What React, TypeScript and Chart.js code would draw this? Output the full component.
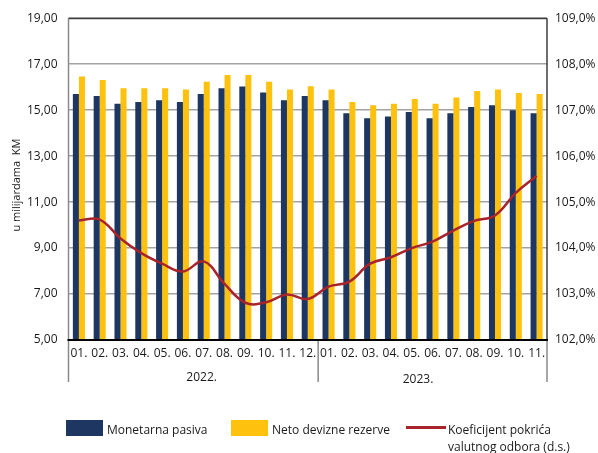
import React, { useEffect, useRef } from "react";
import { Chart, registerables } from "chart.js";

Chart.register(...registerables);

const months = [
  "01.", "02.", "03.", "04.", "05.", "06.", "07.", "08.", "09.", "10.", "11.", "12.",
  "01.", "02.", "03.", "04.", "05.", "06.", "07.", "08.", "09.", "10.", "11.",
];
const years = ["2022.", "2023."];
const yearFirstIndex = [0, 12];

const monetarnaPasiva = [
  15.70, 15.62, 15.28, 15.35, 15.43, 15.35, 15.70, 15.95, 16.03, 15.77, 15.43, 15.62,
  15.43, 14.87, 14.65, 14.72, 14.92, 14.65, 14.87, 15.14, 15.21, 15.00, 14.87,
];
const netoDevizneRezerve = [
  16.46, 16.31, 15.95, 15.95, 15.95, 15.90, 16.24, 16.53, 16.53, 16.24, 15.90, 16.04,
  15.90, 15.35, 15.21, 15.28, 15.48, 15.28, 15.55, 15.83, 15.90, 15.75, 15.70,
];
const koeficijentPokrica = [
  104.60, 104.62, 104.21, 103.89, 103.66, 103.49, 103.71, 103.22, 102.81, 102.82, 102.99, 102.89,
  103.16, 103.27, 103.66, 103.80, 104.00, 104.14, 104.38, 104.59, 104.71, 105.20, 105.57,
];

const NAVY = "#1d3662";
const YELLOW = "#fec10e";
const RED = "#a8232a";
const FONT = "'Open Sans', 'DejaVu Sans', sans-serif";
const TEXT = "#1a1a1a";

const decorPlugin = {
  id: "decor",
  afterDraw(chart: any) {
    const { ctx, chartArea } = chart;
    const { left, right, top, bottom } = chartArea;
    const xs = chart.scales.x;
    const step = xs.getPixelForValue(1) - xs.getPixelForValue(0);
    const ext = bottom + 42;
    const seg = (x1: number, y1: number, x2: number, y2: number) => {
      ctx.beginPath();
      ctx.moveTo(x1, y1);
      ctx.lineTo(x2, y2);
      ctx.stroke();
    };
    ctx.save();
    // outer frame
    ctx.lineWidth = 1.5;
    ctx.strokeStyle = "#8a8a8a";
    seg(left, top, left, ext);
    ctx.strokeStyle = "#3c3c3c";
    seg(left, top, right, top);
    seg(right, top, right, bottom);
    ctx.strokeStyle = "#8a8a8a";
    seg(right, bottom, right, ext);
    // year separators
    for (let i = 1; i < yearFirstIndex.length; i++) {
      const xSep = xs.getPixelForValue(yearFirstIndex[i]) - step / 2;
      seg(xSep, bottom, xSep, ext);
    }
    // bottom axis line
    ctx.strokeStyle = "#000";
    ctx.lineWidth = 2;
    seg(left - 1, bottom, right + 1, bottom);
    // year labels
    ctx.fillStyle = TEXT;
    ctx.font = `12px ${FONT}`;
    ctx.textAlign = "center";
    ctx.textBaseline = "middle";
    const yearPos = [5.9, 16.3];
    years.forEach((y, i) => {
      const xp = xs.getPixelForValue(0) + yearPos[i] * step;
      ctx.fillText(y, xp, bottom + 38 + i * 1.5);
    });
    // y axis title
    ctx.translate(17, (top + bottom) / 2 + 6);
    ctx.rotate(-Math.PI / 2);
    ctx.font = `11px ${FONT}`;
    ctx.fillText("u milijardama  KM", 0, 0);
    ctx.restore();
  },
};

export default function App() {
  const ref = useRef<HTMLCanvasElement | null>(null);

  useEffect(() => {
    document.body.style.margin = "0";
    const canvas = ref.current;
    if (!canvas) return;
    Chart.defaults.font.family = FONT;
    Chart.defaults.font.size = 12;
    Chart.defaults.color = TEXT;

    const chart = new Chart(canvas, {
      type: "bar",
      data: {
        labels: months,
        datasets: [
          {
            type: "line",
            label: "Koeficijent pokrića valutnog odbora (d.s.)",
            data: koeficijentPokrica,
            yAxisID: "y1",
            borderColor: RED,
            backgroundColor: RED,
            borderWidth: 2.5,
            pointRadius: 0,
            tension: 0.4,
            order: 0,
          } as any,
          {
            type: "bar",
            label: "Monetarna pasiva",
            data: monetarnaPasiva,
            yAxisID: "y",
            backgroundColor: NAVY,
            barPercentage: 1,
            categoryPercentage: 0.58,
            order: 1,
          },
          {
            type: "bar",
            label: "Neto devizne rezerve",
            data: netoDevizneRezerve,
            yAxisID: "y",
            backgroundColor: YELLOW,
            barPercentage: 1,
            categoryPercentage: 0.58,
            order: 1,
          },
        ],
      },
      options: {
        responsive: false,
        animation: false,
        layout: { padding: { top: 14, left: 0, right: 0, bottom: 0 } },
        plugins: { legend: { display: false }, tooltip: { enabled: false } },
        scales: {
          x: {
            type: "category",
            offset: true,
            grid: { display: false, drawTicks: false },
            border: { display: false },
            ticks: { autoSkip: false, maxRotation: 0, padding: 6, font: { size: 12 } },
            afterFit: (s: any) => {
              s.height = 113;
            },
          },
          y: {
            position: "left",
            min: 5,
            max: 19,
            grid: { color: "#a3a3a3", lineWidth: 1.4, drawTicks: false },
            border: { display: false },
            ticks: {
              stepSize: 2,
              padding: 11,
              font: { size: 12 },
              callback: (v: any) => Number(v).toFixed(2).replace(".", ","),
            },
            afterFit: (s: any) => {
              s.width = 68.5;
            },
          },
          y1: {
            position: "right",
            min: 102,
            max: 109,
            grid: { display: false, drawTicks: false },
            border: { display: false },
            ticks: {
              stepSize: 1,
              padding: 8,
              font: { size: 12 },
              callback: (v: any) => Number(v).toFixed(1).replace(".", ",") + "%",
            },
            afterFit: (s: any) => {
              s.width = 51;
            },
          },
        },
      },
      plugins: [decorPlugin],
    });
    return () => chart.destroy();
  }, []);

  const txt: React.CSSProperties = {
    position: "absolute",
    fontFamily: FONT,
    fontSize: 12,
    lineHeight: "17px",
    color: TEXT,
    whiteSpace: "nowrap",
  };

  return (
    <div style={{ position: "relative", width: 598, height: 453, overflow: "hidden", background: "#fff" }}>
      <canvas ref={ref} width={598} height={453} style={{ display: "block" }} />
      <div style={{ position: "absolute", left: 66, top: 420, width: 37, height: 16, background: NAVY }} />
      <div style={{ ...txt, left: 107, top: 421 }}>Monetarna pasiva</div>
      <div style={{ position: "absolute", left: 231, top: 420, width: 37, height: 16, background: YELLOW }} />
      <div style={{ ...txt, left: 272, top: 421 }}>Neto devizne rezerve</div>
      <div style={{ position: "absolute", left: 406, top: 426, width: 40, height: 3, background: RED }} />
      <div style={{ ...txt, left: 448, top: 421 }}>
        Koeficijent pokrića
        <br />
        valutnog odbora (d.s.)
      </div>
    </div>
  );
}
